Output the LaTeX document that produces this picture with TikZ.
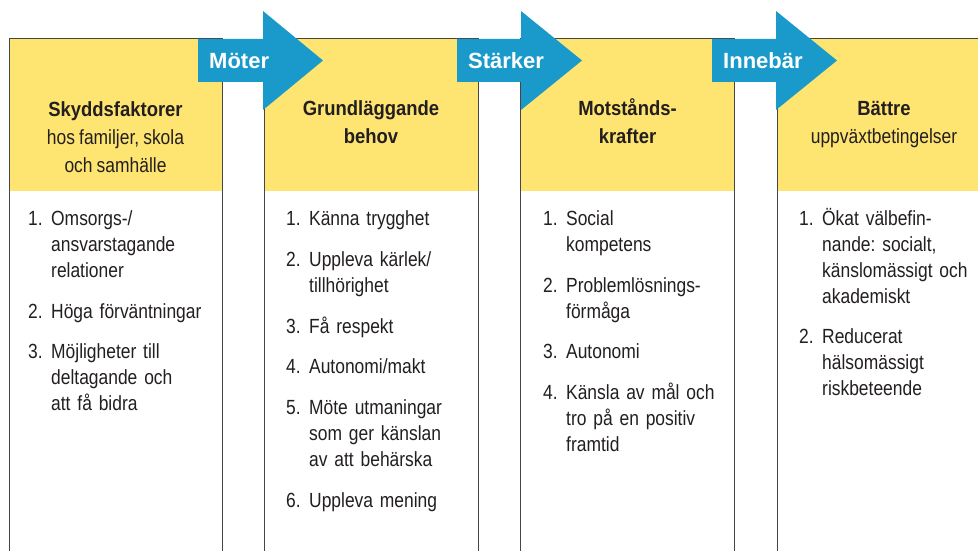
\documentclass[tikz,border=0pt]{standalone}
\usepackage{fontspec}
\setmainfont[FakeStretch=0.85, WordSpace=0.85, BoldFeatures={FakeStretch=0.9}]{Liberation Sans}
\newfontfamily\pilfont{Liberation Sans}
\definecolor{gul}{RGB}{254,228,112}
\definecolor{pilbla}{RGB}{26,154,203}
\definecolor{linje}{RGB}{70,70,70}
\definecolor{textgra}{RGB}{35,31,32}
\frenchspacing
\newcommand\punkt[2]{\hangindent=23pt\hangafter=1\noindent\makebox[23pt][l]{#1}#2\par}
\begin{document}
\begin{tikzpicture}[x=1pt,y=-1pt,
        rubrik/.style={fill=gul, minimum width=#1, minimum height=152pt,
          anchor=north west, inner sep=0pt, outer sep=0pt},
        rubriktext/.style={align=center, anchor=base, text=textgra,
          font=\fontsize{20.5}{28}\selectfont},
        lista/.style={text width=175pt, anchor=base west, inner sep=0pt,
          text=textgra, font=\fontsize{20.5}{26}\selectfont\frenchspacing},
        piltext/.style={anchor=base west, inner sep=0pt, text=white,
          font=\pilfont\bfseries\fontsize{22}{26}\selectfont},
        ram/.style={draw=linje, line width=1pt},
        pil/.style={fill=pilbla}]
    \path[use as bounding box, fill=white] (0,0) rectangle (978,551);
    \coordinate (bunn) at (0,551);
    \node[rubrik=213pt] (h1) at (9,39) {};
    \node[rubrik=214pt] (h2) at (264,39) {};
    \node[rubrik=214pt] (h3) at (520,39) {};
    \node[rubrik=201pt] (h4) at (777,39) {};
    \draw[ram] (h1.north west |- bunn) -- (h1.north west) -- (h1.north east) -- (h1.north east |- bunn);
    \draw[ram] (h2.north west |- bunn) -- (h2.north west) -- (h2.north east) -- (h2.north east |- bunn);
    \draw[ram] (h3.north west |- bunn) -- (h3.north west) -- (h3.north east) -- (h3.north east |- bunn);
    \draw[ram] (h4.north west |- bunn) -- (h4.north west) -- (h4.north east);
    \fill[pil] (198,39) -- (263,39) -- (263,11) -- (323,60.5) -- (263,110) -- (263,82) -- (198,82) -- cycle;
    \fill[pil] (457,39) -- (521,39) -- (521,11) -- (582,60.5) -- (521,110) -- (521,82) -- (457,82) -- cycle;
    \fill[pil] (712,39) -- (776,39) -- (776,11) -- (837,60.5) -- (776,110) -- (776,82) -- (712,82) -- cycle;
    \node[piltext] (p1) at (209,69) {Möter};
    \node[piltext] (p2) at (468,69) {Stärker};
    \node[piltext] (p3) at (723,69) {Innebär};
    \node[rubriktext] (r1) at (115.5,172) {\textbf{Skyddsfaktorer}\\hos familjer, skola\\och samhälle};
    \node[rubriktext] (r2) at (371,143) {\textbf{Grundläggande}\\\textbf{behov}};
    \node[rubriktext] (r3) at (627.5,143) {\textbf{Motstånds-}\\\textbf{krafter}};
    \node[rubriktext] (r4) at (884,143) {\textbf{Bättre}\\uppväxtbetingelser};
    \node[lista] (l1) at (28,225) {\setlength{\parskip}{15pt}%
      \punkt{1.}{Omsorgs-/\newline ansvarstagande\newline relationer}
      \punkt{2.}{Höga förväntningar}
      \punkt{3.}{Möjligheter till\newline deltagande och\newline att få bidra}};
    \node[lista] (l2) at (286,225) {\setlength{\parskip}{15pt}%
      \punkt{1.}{Känna trygghet}
      \punkt{2.}{Uppleva kärlek/\newline tillhörighet}
      \punkt{3.}{Få respekt}
      \punkt{4.}{Autonomi/makt}
      \punkt{5.}{Möte utmaningar\newline som ger känslan\newline av att behärska}
      \punkt{6.}{Uppleva mening}};
    \node[lista] (l3) at (543,225) {\setlength{\parskip}{15pt}%
      \punkt{1.}{Social\newline kompetens}
      \punkt{2.}{Problemlösnings-\newline förmåga}
      \punkt{3.}{Autonomi}
      \punkt{4.}{Känsla av mål och\newline tro på en positiv\newline framtid}};
    \node[lista] (l4) at (799,225) {\setlength{\parskip}{15pt}%
      \punkt{1.}{Ökat välbefin-\newline nande: socialt,\newline känslomässigt och\newline akademiskt}
      \punkt{2.}{Reducerat\newline hälsomässigt\newline riskbeteende}};
\end{tikzpicture}
\end{document}
